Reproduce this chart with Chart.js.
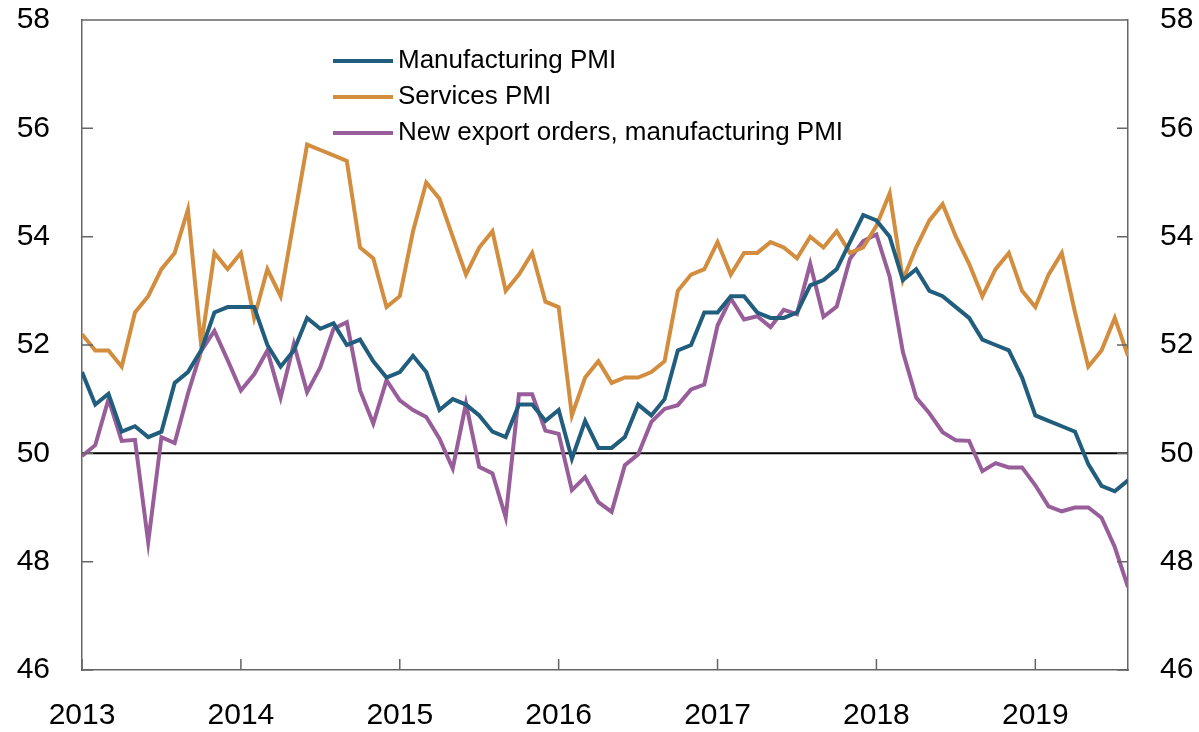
<!DOCTYPE html>
<html>
<head>
<meta charset="utf-8">
<script src="https://cdn.jsdelivr.net/npm/chart.js@4"></script>
<style>
  html, body { margin: 0; padding: 0; background: #fff; }
  #wrap { width: 1199px; height: 732px; position: relative; }
</style>
</head>
<body>
<div id="wrap"><canvas id="pmi"></canvas></div>
<script>
// monthly, Jan 2013 .. Aug 2019 (index 0..79)
const manufacturing = [
  51.5, 50.9, 51.1, 50.4, 50.5, 50.3, 50.4, 51.3, 51.5, 51.9, 52.6, 52.7,
  52.7, 52.7, 52.0, 51.6, 51.9, 52.5, 52.3, 52.4, 52.0, 52.1, 51.7, 51.4,
  51.5, 51.8, 51.5, 50.8, 51.0, 50.9, 50.7, 50.4, 50.3, 50.9, 50.9, 50.6,
  50.8, 49.9, 50.6, 50.1, 50.1, 50.3, 50.9, 50.7, 51.0, 51.9, 52.0, 52.6,
  52.6, 52.9, 52.9, 52.6, 52.5, 52.5, 52.6, 53.1, 53.2, 53.4, 53.9, 54.4,
  54.3, 54.0, 53.2, 53.4, 53.0, 52.9, 52.7, 52.5, 52.1, 52.0, 51.9, 51.4,
  50.7, 50.6, 50.5, 50.4, 49.8, 49.4, 49.3, 49.5
];
const services = [
  52.2, 51.9, 51.9, 51.6, 52.6, 52.9, 53.4, 53.7, 54.5, 52.0, 53.7, 53.4,
  53.7, 52.5, 53.4, 52.9, 54.3, 55.7, 55.6, 55.5, 55.4, 53.8, 53.6, 52.7,
  52.9, 54.1, 55.0, 54.7, 54.0, 53.3, 53.8, 54.1, 53.0, 53.3, 53.7, 52.8,
  52.7, 50.7, 51.4, 51.7, 51.3, 51.4, 51.4, 51.5, 51.7, 53.0, 53.3, 53.4,
  53.9, 53.3, 53.7, 53.7, 53.9, 53.8, 53.6, 54.0, 53.8, 54.1, 53.7, 53.8,
  54.2, 54.8, 53.2, 53.8, 54.3, 54.6, 54.0, 53.5, 52.9, 53.4, 53.7, 53.0,
  52.7, 53.3, 53.7, 52.6, 51.6, 51.9, 52.5, 51.8
];
const exportOrders = [
  49.95, 50.15, 51.0, 50.23, 50.25, 48.36, 50.3, 50.19, 51.1, 51.89, 52.26, 51.72,
  51.16, 51.46, 51.9, 51.03, 52.02, 51.13, 51.59, 52.3, 52.42, 51.16, 50.55, 51.35,
  50.98, 50.8, 50.67, 50.27, 49.72, 50.92, 49.75, 49.63, 48.82, 51.09, 51.09, 50.42,
  50.36, 49.32, 49.56, 49.1, 48.92, 49.78, 49.98, 50.58, 50.82, 50.89, 51.18, 51.27,
  52.36, 52.86, 52.47, 52.53, 52.33, 52.65, 52.57, 53.5, 52.52, 52.71, 53.59, 53.92,
  54.04, 53.26, 51.87, 51.03, 50.74, 50.39, 50.24, 50.23, 49.67, 49.82, 49.74, 49.74,
  49.41, 49.02, 48.93, 49.0, 49.0, 48.81, 48.27, 47.53
];
const seriesLabels = ["Manufacturing PMI", "Services PMI", "New export orders, manufacturing PMI"];
const yearLabels = ["2013", "2014", "2015", "2016", "2017", "2018", "2019"];
const yearTicks = [0, 12, 24, 36, 48, 60, 72];
const yTicks = [46, 48, 50, 52, 54, 56, 58];

const COLORS = ["#215d7c", "#d38d3f", "#985e9a"];
const AXIS = "#666666";
const FONT = "'Liberation Sans', Arial, sans-serif";

const toPoints = arr => arr.map((v, i) => ({ x: i, y: v }));

// frame, inward ticks, 50-line, legend
const framePlugin = {
  id: "frame",
  beforeDatasetsDraw(chart) {
    const { ctx, chartArea: a, scales } = chart;
    const y50 = scales.y.getPixelForValue(50);
    ctx.save();
    ctx.strokeStyle = "#000";
    ctx.lineWidth = 2;
    ctx.beginPath();
    ctx.moveTo(a.left, y50);
    ctx.lineTo(a.right, y50);
    ctx.stroke();
    ctx.restore();
  },
  afterDraw(chart) {
    const { ctx, chartArea: a, scales } = chart;
    ctx.save();
    ctx.strokeStyle = AXIS;
    ctx.lineWidth = 1.5;
    ctx.beginPath();
    ctx.moveTo(a.left, a.top);
    ctx.lineTo(a.right, a.top);
    // y ticks both sides
    yTicks.forEach(v => {
      const py = scales.y.getPixelForValue(v);
      ctx.moveTo(a.left, py); ctx.lineTo(a.left + 11, py);
      ctx.moveTo(a.right, py); ctx.lineTo(a.right - 11, py);
    });
    yearTicks.forEach(v => {
      const px = scales.x.getPixelForValue(v);
      ctx.moveTo(px, a.bottom); ctx.lineTo(px, a.bottom - 11);
    });
    ctx.stroke();

    // legend
    const lx = 333, ly = 61, step = 36;
    ctx.font = "26px " + FONT;
    ctx.textBaseline = "middle";
    ctx.fillStyle = "#000";
    chart.data.datasets.forEach((ds, i) => {
      const yy = ly + i * step;
      ctx.strokeStyle = ds.borderColor;
      ctx.lineWidth = 4;
      ctx.beginPath();
      ctx.moveTo(lx, yy);
      ctx.lineTo(lx + 60, yy);
      ctx.stroke();
      ctx.fillText(ds.label, lx + 65, yy);
    });
    ctx.restore();
  }
};

const tickFont = { family: FONT, size: 30 };
const fitY = w => s => { s.width = w; s.paddingTop = 0; s.paddingBottom = 0; };

new Chart(document.getElementById("pmi"), {
  type: "line",
  data: {
    datasets: [
      { label: seriesLabels[0], data: toPoints(manufacturing), borderColor: COLORS[0] },
      { label: seriesLabels[1], data: toPoints(services), borderColor: COLORS[1] },
      { label: seriesLabels[2], data: toPoints(exportOrders), borderColor: COLORS[2] },
    ].map(ds => ({ ...ds, borderWidth: 4, pointRadius: 0, tension: 0, fill: false, borderJoinStyle: "miter" })),
  },
  options: {
    responsive: true,
    maintainAspectRatio: false,
    animation: false,
    layout: { padding: { top: 20, right: 0, left: 0, bottom: 0 } },
    plugins: { legend: { display: false }, tooltip: { enabled: false } },
    scales: {
      x: {
        type: "linear",
        min: 0,
        max: 79,
        afterBuildTicks: s => { s.ticks = yearTicks.map(v => ({ value: v })); },
        afterFit: s => { s.height = 62; s.paddingLeft = 0; s.paddingRight = 0; },
        grid: { display: false, drawTicks: false },
        border: { color: AXIS, width: 1.5 },
        ticks: {
          color: "#000",
          font: tickFont,
          padding: 28,
          maxRotation: 0,
          autoSkip: false,
          callback: v => yearLabels[yearTicks.indexOf(v)] ?? "",
        },
      },
      y: {
        position: "left",
        min: 46,
        max: 58,
        afterBuildTicks: s => { s.ticks = yTicks.map(v => ({ value: v })); },
        afterFit: fitY(82),
        grid: { display: false, drawTicks: false },
        border: { color: AXIS, width: 1.5 },
        ticks: { color: "#000", font: tickFont, padding: 32 },
      },
      y2: {
        position: "right",
        min: 46,
        max: 58,
        afterBuildTicks: s => { s.ticks = yTicks.map(v => ({ value: v })); },
        afterFit: fitY(71),
        grid: { display: false, drawTicks: false },
        border: { color: AXIS, width: 1.5 },
        ticks: { color: "#000", font: tickFont, padding: 32 },
      },
    },
  },
  plugins: [framePlugin],
});
</script>
</body>
</html>
